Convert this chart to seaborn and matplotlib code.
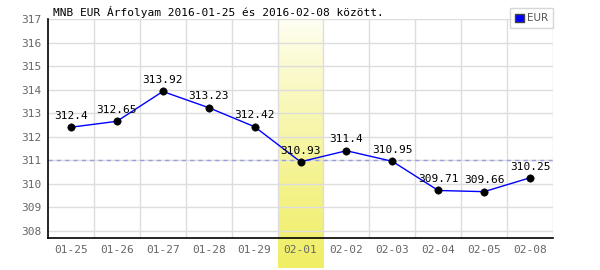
import numpy as np
import pandas as pd
import matplotlib
matplotlib.use("Agg")
import matplotlib.pyplot as plt
import seaborn as sns
from matplotlib.patches import Patch

dates = ["01-25", "01-26", "01-27", "01-28", "01-29", "02-01", "02-02", "02-03", "02-04", "02-05", "02-08"]
rates = [312.4, 312.65, 313.92, 313.23, 312.42, 310.93, 311.4, 310.95, 309.71, 309.66, 310.25]
rate_labels = ["312.4", "312.65", "313.92", "313.23", "312.42", "310.93", "311.4", "310.95", "309.71", "309.66", "310.25"]
y_ticks = [308, 309, 310, 311, 312, 313, 314, 315, 316, 317]
ref_level = 311
highlight = "02-01"
title = "MNB EUR Árfolyam 2016-01-25 és 2016-02-08 között."
series_name = "EUR"

sns.set_theme(style="white")
plt.rcParams["font.family"] = ["DejaVu Sans Mono", "DejaVu Sans"]

df = pd.DataFrame({"date": dates, "rate": rates})

fig = plt.figure(figsize=(6, 2.7), dpi=100)
ax = fig.add_axes([48 / 600, 1 - 238 / 270, (553 - 48) / 600, (238 - 19) / 270])

ymin, ymax = 307.69, 317.0
n = len(dates)
ax.set_xlim(-0.5, n - 0.5)
ax.set_ylim(ymin, ymax)

# highlight gradient
hi = dates.index(highlight)
grad = np.linspace(0, 1, 256).reshape(-1, 1)
top = np.array([255, 255, 248]) / 255
bot = np.array([240, 238, 100]) / 255
img = top + (grad ** 0.8)[..., None] * (bot - top)
ybot = ymin - (268 - 238) / 23.5
ax.imshow(img, extent=(hi - 0.5, hi + 0.5, ybot, ymax), aspect="auto",
          origin="upper", clip_on=False, zorder=0)

# grid
for yv in y_ticks:
    ax.axhline(yv, color="#dddddd", lw=1, zorder=0.5)
for b in range(1, n + 1):
    ax.axvline(b - 0.5, color="#dddddd", lw=1, zorder=0.5)
ax.axhline(ref_level, color="#9a9fd8", lw=1, ls=(0, (3, 3)), zorder=1)

sns.lineplot(data=df, x="date", y="rate", color="#0000ff", lw=1, ax=ax, zorder=2,
             sort=False, legend=False)
sns.scatterplot(data=df, x="date", y="rate", color="black", s=28, ax=ax, zorder=3,
                edgecolor="black", legend=False)

for i, (v, t) in enumerate(zip(rates, rate_labels)):
    ax.annotate(t, (i, v), xytext=(0, 4.5), textcoords="offset points",
                ha="center", va="bottom", fontsize=8, color="black", zorder=4)

ax.set_xlim(-0.5, n - 0.5)
ax.set_ylim(ymin, ymax)
ax.set_yticks(y_ticks)
ax.set_xticks(range(n))
ax.set_xticklabels(dates)
ax.tick_params(axis="both", labelsize=8, labelcolor="#666666", length=3, color="#dddddd", width=1)
ax.tick_params(axis="y", pad=2)
ax.tick_params(axis="x", length=0, pad=5)
ax.set_xlabel("")
ax.set_ylabel("")
for s in ["top", "right"]:
    ax.spines[s].set_visible(False)
ax.spines["left"].set_color("black")
ax.spines["bottom"].set_color("black")
ax.spines["left"].set_linewidth(1.2)
ax.spines["bottom"].set_linewidth(1.2)

leg = ax.legend(handles=[Patch(facecolor="#0000ff", edgecolor="#444444", label=series_name)],
                loc="upper right", bbox_to_anchor=(553 / 600, 1 - 8 / 270),
                bbox_transform=fig.transFigure, prop={"family": "DejaVu Sans", "size": 7.5},
                frameon=True, fancybox=False, handlelength=0.8, handleheight=0.8,
                handletextpad=0.3, borderpad=0.5, borderaxespad=0)
leg.get_frame().set_edgecolor("#cccccc")
for t in leg.get_texts():
    t.set_color("#555555")

fig.text(53 / 600, 1 - 12 / 270, title, fontsize=8, color="black", va="center", ha="left")

fig.savefig("out.png", dpi=100, facecolor="white")
